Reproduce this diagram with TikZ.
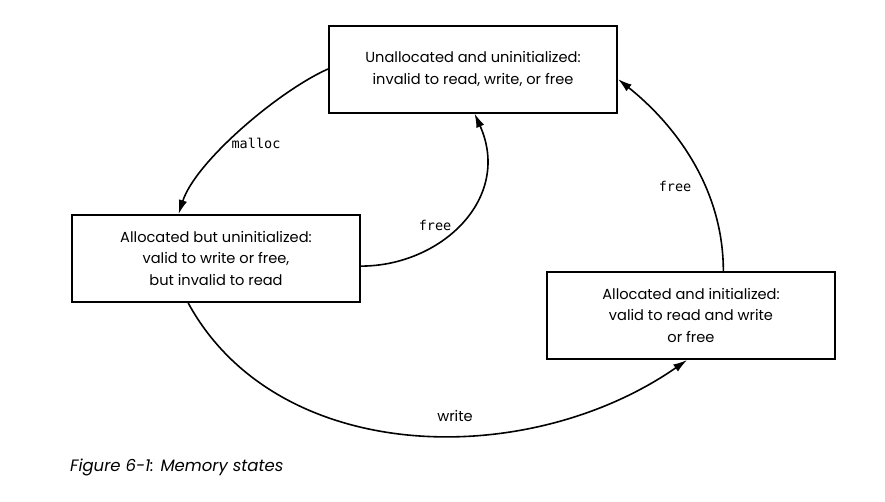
\documentclass[tikz,border=0pt]{standalone}
\usepackage{fontspec}
\setmainfont{Poppins}
\setmonofont{DejaVu Sans Mono}
\usetikzlibrary{arrows.meta}
\begin{document}
\begin{tikzpicture}[x=1pt,y=-1pt,
  state/.style={draw, line width=2pt, minimum width=288pt, minimum height=87pt,
    align=center, inner sep=0pt, font=\fontsize{14.6}{21.5}\selectfont},
  trans/.style={line width=1.6pt, -{Latex[length=14pt,width=8.5pt]}},
  lbl/.style={font=\ttfamily\fontsize{13.5}{16}\selectfont, inner sep=0pt},
  wlbl/.style={font=\fontsize{14.6}{16}\selectfont, inner sep=0pt},
  figcaption/.style={font=\itshape\fontsize{16.5}{18}\selectfont, inner sep=0pt, anchor=west}]
\useasboundingbox (0,0) rectangle (885,501);
\node[state] (A) at (473,69) {Unallocated and uninitialized:\\invalid to read, write, or free};
\node[state] (B) at (216,258.5) {Allocated but uninitialized:\\valid to write or free,\\but invalid to read};
\node[state] (C) at (691,315.5) {Allocated and initialized:\\valid to read and write\\or free};
\draw[trans] (A.180) .. controls +(-49.5,22) and +(16.5,-52) .. (B.130);
\draw[trans] (B.-3) .. controls +(80,0) and +(38,85) .. (A.272);
\draw[trans] (B.238) .. controls +(89,163) and +(-160,111) .. (C.265);
\draw[trans] (C.54) .. controls +(0,-85) and +(54.6,43.4) .. (A.-4);
\node[lbl] (lmalloc) at (256,143) {malloc};
\node[lbl] (lfree1) at (435,225) {free};
\node[lbl] (lfree2) at (675,186) {free};
\node[wlbl] (lwrite) at (455,416) {write};
\node[figcaption] (caption) at (70,467) {Figure 6-1: Memory states};
\end{tikzpicture}
\end{document}
